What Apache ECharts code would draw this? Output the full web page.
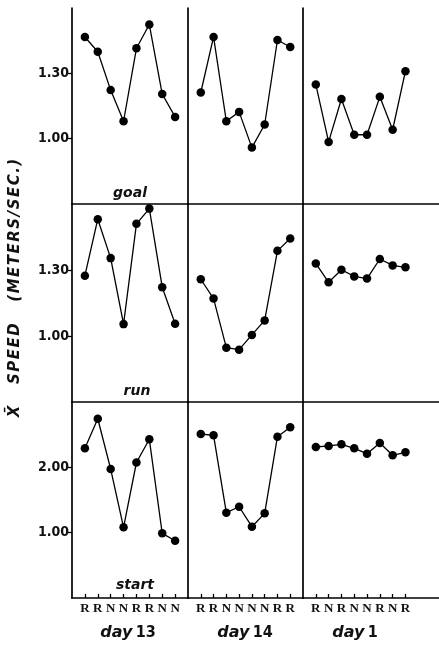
<!DOCTYPE html>
<html>
<head>
<meta charset="utf-8">
<script src="https://cdn.jsdelivr.net/npm/echarts@6/dist/echarts.min.js"></script>
<style>
  html, body { margin: 0; padding: 0; background: #fff; }
  #chart { width: 439px; height: 646px; }
</style>
</head>
<body>
<div id="chart"></div>
<script>
// sequence letters under each column
var lab13 = ['R', 'R', 'N', 'N', 'R', 'R', 'N', 'N'];
var lab14 = ['R', 'R', 'N', 'N', 'N', 'N', 'R', 'R'];
var lab1 = ['R', 'N', 'R', 'N', 'N', 'R', 'N', 'R'];
var dayNames = ['13', '14', '1'];
var rowNames = ['goal', 'run', 'start'];

// mean speeds
var goal13 = [1.467, 1.399, 1.223, 1.08, 1.415, 1.524, 1.205, 1.10];
var goal14 = [1.212, 1.467, 1.08, 1.123, 0.959, 1.065, 1.453, 1.421];
var goal1 = [1.249, 0.985, 1.182, 1.018, 1.018, 1.192, 1.041, 1.31];
var run13 = [1.274, 1.531, 1.354, 1.054, 1.51, 1.579, 1.222, 1.056];
var run14 = [1.258, 1.17, 0.947, 0.938, 1.005, 1.071, 1.387, 1.443];
var run1 = [1.33, 1.244, 1.301, 1.271, 1.261, 1.35, 1.321, 1.312];
var start13 = [2.291, 2.744, 1.974, 1.082, 2.074, 2.429, 0.99, 0.877];
var start14 = [2.51, 2.49, 1.306, 1.397, 1.091, 1.296, 2.469, 2.613];
var start1 = [2.311, 2.327, 2.352, 2.291, 2.209, 2.372, 2.184, 2.23];

var yTicksUpper = [1.00, 1.30];
var yTicksStart = [1.00, 2.00];

var panels = [
  [goal13, goal14, goal1],
  [run13, run14, run1],
  [start13, start14, start1]
];
var labels = [lab13, lab14, lab1];

var colLeft = [72, 188, 303];
var colWidth = [116, 115, 136];
var colMax = [9, 9, 10.62];
var rowTop = [8, 204, 402];
var rowHeight = [196, 198, 196];
var rowMin = [0.7, 0.7, 0];
var rowMax = [1.6, 1.6, 3];
var rowTicks = [yTicksUpper, yTicksUpper, yTicksStart];
var positions = [1, 2, 3, 4, 5, 6, 7, 8];

var narrow = "'Liberation Sans Narrow', 'DejaVu Sans Condensed', 'Roboto Condensed', sans-serif";

var grids = [], xAxes = [], yAxes = [], series = [];
for (var r = 0; r < 3; r++) {
  for (var c = 0; c < 3; c++) {
    var i = grids.length;
    var bottomRow = r === 2;
    var firstCol = c === 0;
    grids.push({left: colLeft[c], top: rowTop[r], width: colWidth[c], height: rowHeight[r], containLabel: false});
    xAxes.push({
      gridIndex: i, type: 'value', min: 0, max: colMax[c],
      axisLine: {show: true, onZero: false, lineStyle: {color: '#000', width: 1.7}},
      axisTick: {show: bottomRow, customValues: positions, inside: true, length: 4, lineStyle: {color: '#000', width: 1.3}},
      axisLabel: {
        show: bottomRow, customValues: positions, margin: 4,
        color: '#111', fontFamily: "'Liberation Serif', 'DejaVu Serif', serif", fontWeight: 'bold', fontSize: 13,
        formatter: (function (labs) { return function (v) { return labs[Math.round(v) - 1] || ''; }; })(labels[c])
      },
      splitLine: {show: false}
    });
    yAxes.push({
      gridIndex: i, type: 'value', min: rowMin[r], max: rowMax[r],
      axisLine: {show: true, onZero: false, lineStyle: {color: '#000', width: 1.7}},
      axisTick: {show: firstCol, customValues: rowTicks[r], length: 4, lineStyle: {color: '#000', width: 1.3}},
      axisLabel: {
        show: firstCol, customValues: rowTicks[r], margin: 3,
        color: '#111', fontFamily: narrow, fontWeight: 'bold', fontSize: 14,
        formatter: function (v) { return v.toFixed(2); }
      },
      splitLine: {show: false}
    });
    series.push({
      type: 'line', xAxisIndex: i, yAxisIndex: i,
      data: panels[r][c].map(function (v, k) { return [positions[k], v]; }),
      symbol: 'circle', symbolSize: 8.5,
      itemStyle: {color: '#000'},
      lineStyle: {color: '#000', width: 1.3},
      animation: false
    });
  }
}

// letter-spaced axis title, keeping X + combining macron together
var titleParts = ['X\u0304', ' ', ' ', ' ', 'S', 'P', 'E', 'E', 'D', ' ', ' ', ' ',
  '(', 'M', 'E', 'T', 'E', 'R', 'S', '/', 'S', 'E', 'C', '.', ')'];
var yTitle = titleParts.join('\u200A');
var italicBold = {fontFamily: "'DejaVu Sans', sans-serif", fontStyle: 'italic', fontWeight: 'bold', fill: '#111'};
var graphics = [
  {type: 'text', x: 15, y: 288, rotation: Math.PI / 2,
   style: Object.assign({}, italicBold, {text: yTitle, fontSize: 15, textAlign: 'center', textVerticalAlign: 'middle'})},
  {type: 'text', x: 130, y: 193, style: Object.assign({}, italicBold, {text: rowNames[0], fontSize: 14, textAlign: 'center', textVerticalAlign: 'middle'})},
  {type: 'text', x: 137, y: 391, style: Object.assign({}, italicBold, {text: rowNames[1], fontSize: 14, textAlign: 'center', textVerticalAlign: 'middle'})},
  {type: 'text', x: 135, y: 585, style: Object.assign({}, italicBold, {text: rowNames[2], fontSize: 14, textAlign: 'center', textVerticalAlign: 'middle'})}
];
var dayX = [128, 245, 355];
for (var d = 0; d < 3; d++) {
  graphics.push({
    type: 'text', x: dayX[d], y: 633,
    style: {
      text: '{a|day} {b|' + dayNames[d] + '}',
      textAlign: 'center', textVerticalAlign: 'middle',
      rich: {
        a: {fontFamily: "'DejaVu Sans', sans-serif", fontStyle: 'italic', fontWeight: 'bold', fontSize: 16, fill: '#111'},
        b: {fontFamily: narrow, fontWeight: 'bold', fontSize: 16, fill: '#111'}
      }
    }
  });
}

var chart = echarts.init(document.getElementById('chart'));
chart.setOption({
  animation: false,
  backgroundColor: '#fff',
  grid: grids,
  xAxis: xAxes,
  yAxis: yAxes,
  series: series,
  graphic: graphics
});
</script>
</body>
</html>
